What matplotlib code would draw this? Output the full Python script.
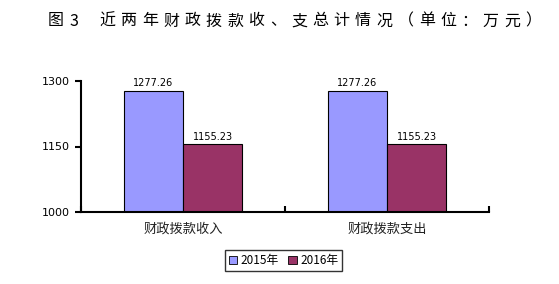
import numpy as np
import matplotlib
matplotlib.use('Agg')
import matplotlib.pyplot as plt
from matplotlib.patches import Patch

plt.rcParams['font.family'] = ['Noto Sans CJK SC', 'DejaVu Sans']

categories = ['财政拨款收入', '财政拨款支出']
series_names = ['2015年', '2016年']
values_2015 = [1277.26, 1277.26]
values_2016 = [1155.23, 1155.23]
yticks = [1000, 1150, 1300]
title = '图3 近两年财政拨款收、支总计情况（单位：万元）'

colors = ['#9999FF', '#993366']

fig = plt.figure(figsize=(5.59, 2.84), dpi=100)
ax = fig.add_axes([81 / 559, 1 - 212 / 284, 408 / 559, 131 / 284])

x = np.arange(len(categories))
w = 0.29
for i, (vals, c) in enumerate(zip([values_2015, values_2016], colors)):
    pos = x + (i - 0.5) * w
    ax.bar(pos, [v - 1000 for v in vals], w, bottom=1000, color=c,
           edgecolor='black', linewidth=0.8, zorder=2)
    for p, v in zip(pos, vals):
        ax.text(p, v + 6, f'{v:.2f}', ha='center', va='bottom', fontsize=7,
                family='DejaVu Sans')

ax.set_xlim(-0.5, len(categories) - 0.5)
ax.set_ylim(1000, 1300)
ax.set_yticks(yticks)
ax.set_yticklabels([str(t) for t in yticks], fontsize=8, family='DejaVu Sans')
ax.set_xticks(np.arange(len(categories) + 1) - 0.5)
ax.set_xticklabels([])
ax.tick_params(axis='x', direction='in', length=4, width=1.5)
ax.tick_params(axis='y', direction='out', length=4, width=1.5, pad=4)
for i, c in enumerate(categories):
    ax.text(i, 976, c, ha='center', va='top', fontsize=9.5, color='#222222')
for s in ['top', 'right']:
    ax.spines[s].set_visible(False)
for s in ['left', 'bottom']:
    ax.spines[s].set_linewidth(1.5)

# title drawn char by char to mimic the wide spacing
xpos = 48
for ch in title:
    if ch == ' ':
        xpos += 6
        continue
    fig.text(xpos / 559, 1 - 21 / 284, ch, fontsize=11.5, ha='left', va='center')
    xpos += 24 if ch.isdigit() else 21.3

handles = [Patch(facecolor=c, edgecolor='black', linewidth=0.6) for c in colors]
leg = fig.legend(handles, series_names, loc='center',
                 bbox_to_anchor=(283.5 / 559, 1 - 260.5 / 284),
                 ncol=2, fontsize=8.5, frameon=True, fancybox=False, handlelength=0.7,
                 handleheight=0.7, handletextpad=0.3, columnspacing=0.8,
                 borderpad=0.3, borderaxespad=0)
leg.get_frame().set_edgecolor('black')
leg.get_frame().set_linewidth(1)

fig.savefig('out.png', dpi=100)
